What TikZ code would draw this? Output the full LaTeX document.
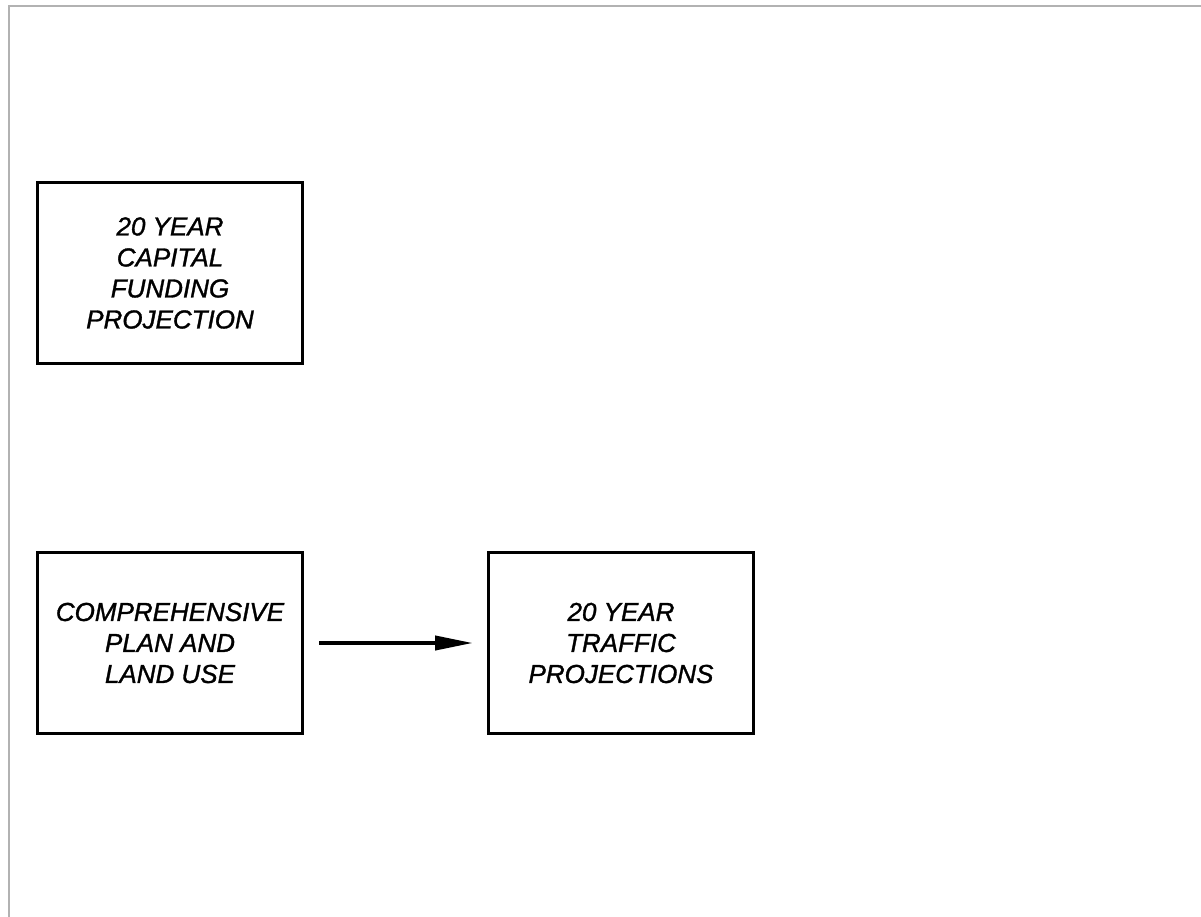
\documentclass[tikz,border=0pt]{standalone}
\usepackage{fontspec}
\newfontfamily\cadfont{Liberation Sans}[ItalicFeatures={FakeBold=1.2}]
\usetikzlibrary{arrows.meta}
\tikzset{
  planbox/.style={draw=black, line width=3pt, minimum width=265pt, minimum height=181pt,
    inner sep=0pt, align=center, font=\cadfont\itshape\fontsize{26}{31}\selectfont},
  flow/.style={line width=4pt, -{Triangle[length=38pt,width=14pt]}},
  frame/.style={draw=black!30, line width=2pt}
}
\begin{document}
\begin{tikzpicture}[x=1pt,y=-1pt]
  \useasboundingbox (0,0) rectangle (1201,917);
  % sheet frame along the top and left edges
  \coordinate (ftop) at (1201,6);
  \coordinate (fcorner) at (9,6);
  \coordinate (fbot) at (9,917);
  \draw[frame] (ftop) -- (fcorner) -- (fbot);
  % boxes
  \node[planbox] (fund) at (170,273) {20 YEAR\\CAPITAL\\FUNDING\\PROJECTION};
  \node[planbox] (comp) at (170,643) {COMPREHENSIVE\\PLAN AND\\LAND USE};
  \node[planbox] (traf) at (621,643) {20 YEAR\\TRAFFIC\\PROJECTIONS};
  % connector
  \draw[flow, shorten <=15pt, shorten >=14pt] (comp.east) -- (traf.west);
\end{tikzpicture}
\end{document}
